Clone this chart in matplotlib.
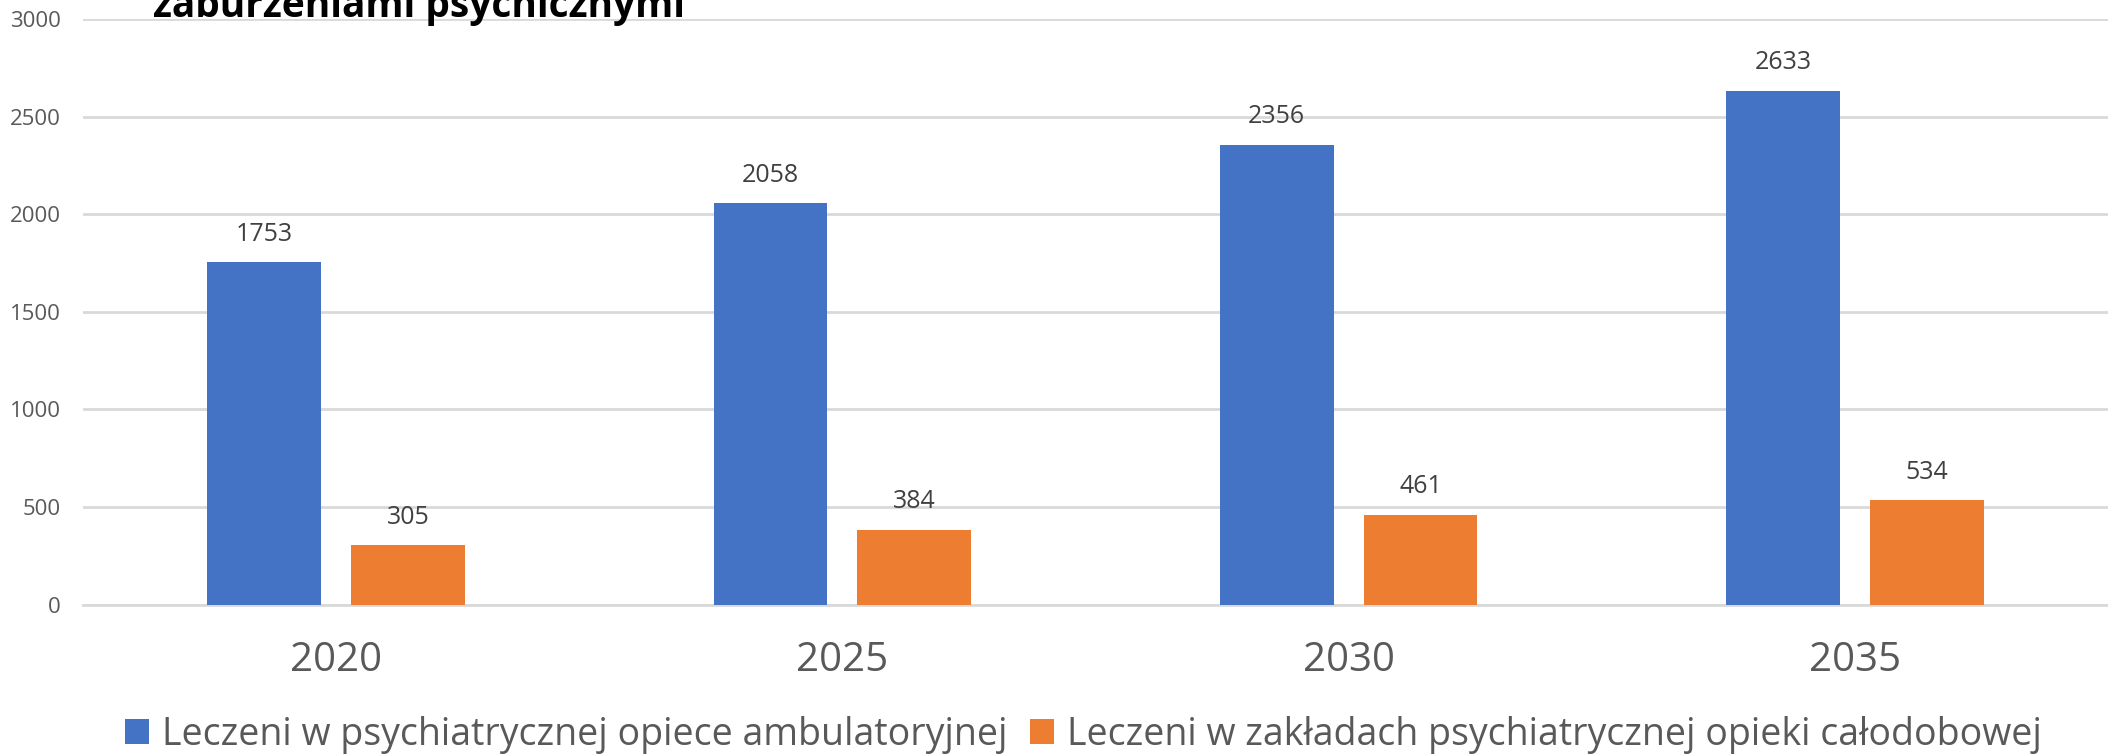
import matplotlib
matplotlib.use("Agg")
import matplotlib.pyplot as plt
import numpy as np
from matplotlib.patches import Patch

years = ["2020", "2025", "2030", "2035"]
ambulatory = [1753, 2058, 2356, 2633]
inpatient = [305, 384, 461, 534]
series_names = ["Leczeni w psychiatrycznej opiece ambulatoryjnej",
                "Leczeni w zakładach psychiatrycznej opieki całodobowej"]
title_line = "zaburzeniami psychicznymi"
yticks = [0, 500, 1000, 1500, 2000, 2500, 3000]

BLUE = "#4472C4"
ORANGE = "#ED7D31"
GRID = "#D9D9D9"
TXT = "#595959"
LBL = "#404040"

plt.rcParams['font.family'] = ['Open Sans', 'DejaVu Sans']

W, H = 2108, 756
fig = plt.figure(figsize=(W / 100, H / 100), dpi=100)
ax = fig.add_axes([83 / W, (H - 604.7) / H, (2108 - 83) / W, (604.7 - 19) / H])

x = np.arange(len(years))
bw = 0.225
off = 0.142
b1 = ax.bar(x - off, ambulatory, bw, color=BLUE, zorder=3)
b2 = ax.bar(x + off, inpatient, bw, color=ORANGE, zorder=3)
ax.bar_label(b1, padding=11, fontsize=18, color=LBL)
ax.bar_label(b2, padding=11, fontsize=18, color=LBL)

ax.set_xlim(-0.5, len(years) - 0.5)
ax.set_ylim(0, 3000)
ax.set_yticks(yticks)
ax.set_yticklabels([str(v) for v in yticks])
ax.set_xticks(x)
ax.set_xticklabels(years)
ax.grid(axis='y', color=GRID, linewidth=2, zorder=0)
ax.tick_params(axis='y', length=0, pad=16, labelsize=16, labelcolor=TXT)
ax.tick_params(axis='x', length=0, pad=26, labelsize=29, labelcolor=TXT)
for s in ['top', 'right', 'left']:
    ax.spines[s].set_visible(False)
ax.spines['bottom'].set_color(GRID)
ax.spines['bottom'].set_linewidth(2)
ax.set_facecolor('white')

fig.text(153 / W, 1 - 17.5 / H, title_line, fontsize=28, fontweight='bold',
         color='black', va='baseline', ha='left')

handles = [Patch(facecolor=BLUE, edgecolor='none'), Patch(facecolor=ORANGE, edgecolor='none')]
fig.legend(handles, series_names, loc='center left', bbox_to_anchor=(125 / W, 1 - 735 / H),
           ncol=2, frameon=False, fontsize=27, labelcolor=TXT, handlelength=0.64,
           handleheight=0.64, handletextpad=0.35, columnspacing=0.6, borderpad=0,
           borderaxespad=0)

fig.savefig("out.png", dpi=100, facecolor='white')
